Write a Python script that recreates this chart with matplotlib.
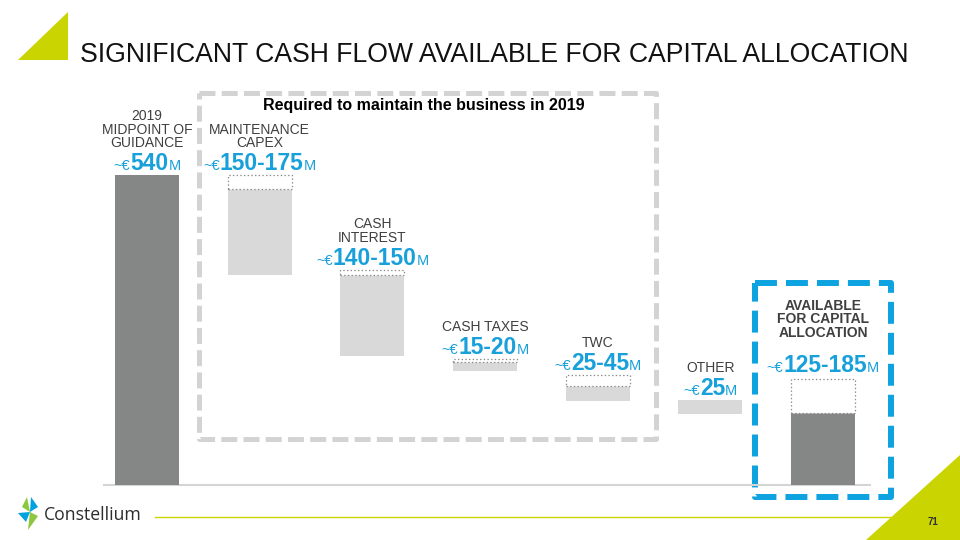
import numpy as np
import matplotlib
matplotlib.use("Agg")
import matplotlib.pyplot as plt
from matplotlib.patches import Polygon

plt.rcParams['font.family'] = ['Liberation Sans', 'DejaVu Sans']
plt.rcParams['lines.scale_dashes'] = False

# data (EUR M)
categories = ['2019\nMIDPOINT OF\nGUIDANCE', 'MAINTENANCE\nCAPEX', 'CASH\nINTEREST',
              'CASH TAXES', 'TWC', 'OTHER', 'AVAILABLE\nFOR CAPITAL\nALLOCATION']
low = [540, 150, 140, 15, 25, 25, 125]
high = [540, 175, 150, 20, 45, 25, 185]
value_text = ['540', '150-175', '140-150', '15-20', '25-45', '25', '125-185']
# level where the solid part of each bar starts, as drawn on the slide
solid_top = [540, 515, 365, 214, 172, 148, 125]

BLUE = '#18A0DB'
DARK = '#858786'
LIGHT = '#D9D9D9'
LIME = '#C9D400'
TXT = '#404040'

fig = plt.figure(figsize=(9.6, 5.4), dpi=100)

# decoration layer in pixel coordinates
deco = fig.add_axes([0, 0, 1, 1], zorder=0)
deco.set_xlim(0, 960)
deco.set_ylim(540, 0)
deco.axis('off')

# bars layer
L, R, B, T = 90.67, 879.33, 500, 90
ax = fig.add_axes([L / 960, (540 - B) / 540, (R - L) / 960, (B - T) / 540], zorder=1)
ax.patch.set_alpha(0)
pxu = 310 / 540
ax.set_xlim(-0.5, 6.5)
ax.set_ylim(-(B - 485) / pxu, (485 - T) / pxu)
ax.axis('off')

x = np.arange(len(categories))
low = np.array(low)
high = np.array(high)
solid_top = np.array(solid_top)
colors = [DARK] + [LIGHT] * 5 + [DARK]

ax.plot([-0.38, 6.42], [0, 0], color='#D4D4D4', lw=1.5, zorder=1)
ax.bar(x, low, bottom=solid_top - low, width=0.568, color=colors, zorder=2)
extra = high - low
for i in range(len(x)):
    if extra[i] > 0:
        ax.bar(x[i], extra[i], bottom=solid_top[i], width=0.568, color='white',
               edgecolor='#8a8a8a', linestyle=':', linewidth=0.9, zorder=3)

tops = solid_top + extra
fig.canvas.draw()
renderer = fig.canvas.get_renderer()


def value_label(i, top, num, dy):
    parts = [('~€', 10.5, 'normal'), (num, 16.5, 'bold'), ('M', 10.5, 'normal')]
    texts = []
    for s, size, w in parts:
        t = ax.annotate(s, (i, top), xytext=(0, dy), textcoords='offset pixels',
                        ha='left', va='baseline', fontsize=size, fontweight=w,
                        color=BLUE, zorder=5)
        texts.append(t)
    widths = [t.get_window_extent(renderer).width for t in texts]
    x0 = -sum(widths) / 2
    for t, w in zip(texts, widths):
        t.set_position((x0, dy))
        x0 += w


for i in range(len(x)):
    last = i == len(x) - 1
    value_label(x[i], tops[i], value_text[i], 7 if last else 5)
    ax.annotate(categories[i], (x[i], tops[i]), xytext=(0, 42 if last else 28),
                textcoords='offset pixels', ha='center', va='baseline',
                fontsize=10, fontweight='bold' if last else 'normal',
                color=TXT, linespacing=0.95, zorder=5)

# dashed boxes
gx = [199, 656, 656, 199, 199]
gy = [93, 93, 439, 439, 93]
deco.plot(gx, gy, color='#D3D3D3', lw=3.6, dashes=(11.5, 4.5), solid_capstyle='butt')
bx = [755, 891, 891, 755, 755]
by = [283, 283, 497, 497, 283]
deco.plot(bx, by, color='#0DA2E0', lw=4.3, dashes=(15.8, 6.5), solid_capstyle='butt')
deco.text(424, 110, 'Required to maintain the business in 2019', ha='center', va='baseline',
          fontsize=11.5, fontweight='bold', color='black')

# title + triangles
deco.add_patch(Polygon([[18, 60], [68, 12], [68, 60]], closed=True, color=LIME, lw=0))
deco.text(80, 62, 'SIGNIFICANT CASH FLOW AVAILABLE FOR CAPITAL ALLOCATION', ha='left',
          va='baseline', fontsize=19.2, color='#111111')
deco.add_patch(Polygon([[866, 540], [960, 455], [960, 540]], closed=True, color=LIME, lw=0))
deco.text(933, 525, '71', ha='center', va='baseline', fontsize=7, fontweight='bold',
          color='#333333')

# footer
deco.plot([155, 905], [517, 517], color=LIME, lw=1)
deco.add_patch(Polygon([[27, 497], [22, 507], [30, 512]], closed=True, color='#8DC63F', lw=0))
deco.add_patch(Polygon([[30, 512], [38, 507], [31, 497]], closed=True, color='#00A3E0', lw=0))
deco.add_patch(Polygon([[18, 513], [30, 512], [26, 522]], closed=True, color='#00A3E0', lw=0))
deco.add_patch(Polygon([[30, 512], [38, 516], [28, 530]], closed=True, color='#8DC63F', lw=0))
deco.text(44, 520, 'Constellium', ha='left', va='baseline', fontsize=12.7,
          color='#2D2D2D', family=['Open Sans', 'DejaVu Sans'])

fig.savefig('out.png', dpi=100)
